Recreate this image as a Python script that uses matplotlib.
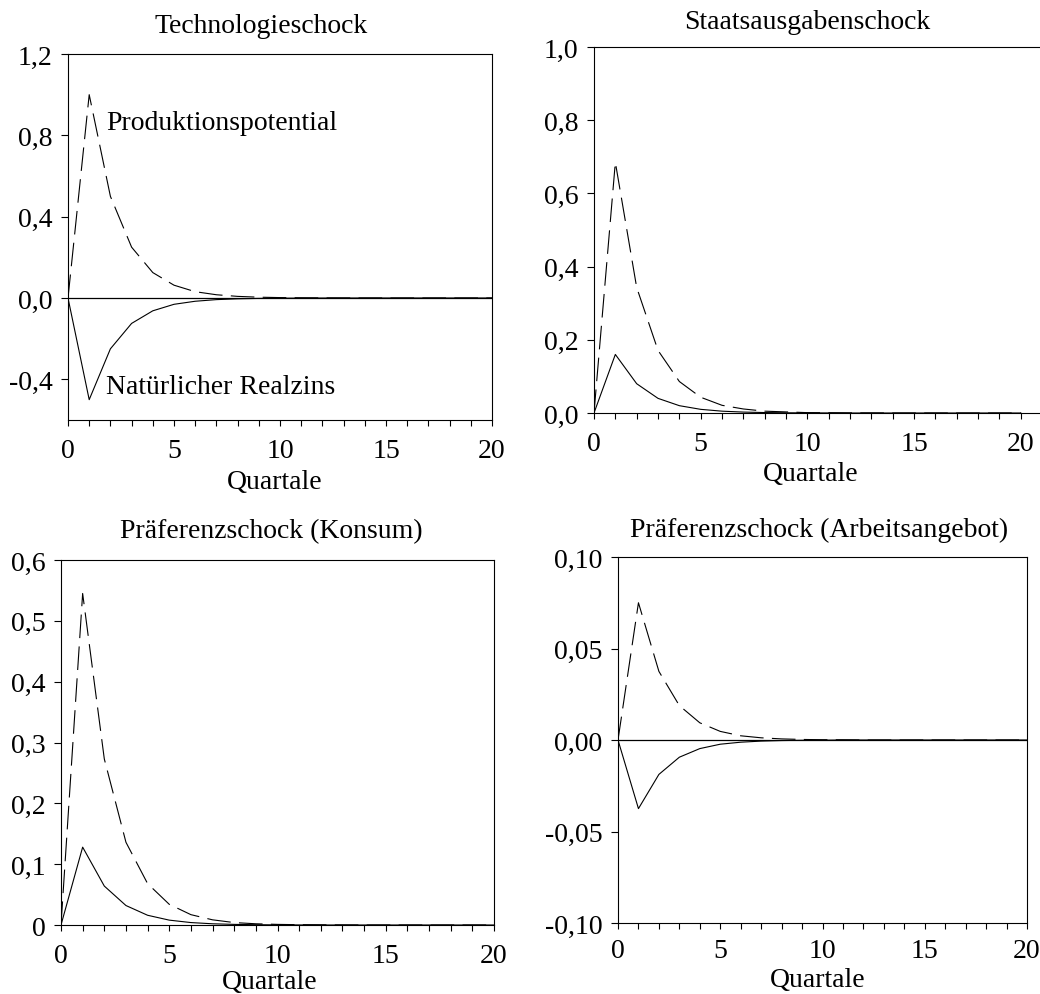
import numpy as np
import matplotlib.pyplot as plt

plt.rcParams['font.family'] = ['Liberation Serif', 'DejaVu Serif']
plt.rcParams['lines.scale_dashes'] = False

W, H = 1040, 995
quartale = np.arange(21)

# Technologieschock
tech_potential = [0, 1.0, 0.5, 0.25, 0.125, 0.063, 0.031, 0.016, 0.008, 0.004, 0.002,
                  0.001, 0.0005, 0.0002, 0.0001, 0, 0, 0, 0, 0, 0]
tech_realzins = [0, -0.5, -0.25, -0.125, -0.063, -0.031, -0.016, -0.008, -0.004, -0.002,
                 -0.001, -0.0005, -0.0002, -0.0001, 0, 0, 0, 0, 0, 0, 0]

# Staatsausgabenschock
staat_potential = [0, 0.685, 0.343, 0.171, 0.086, 0.043, 0.021, 0.011, 0.005, 0.003,
                   0.001, 0.0007, 0.0003, 0.0002, 0, 0, 0, 0, 0, 0, 0]
staat_realzins = [0, 0.16, 0.08, 0.04, 0.02, 0.01, 0.005, 0.0025, 0.0012, 0.0006,
                  0.0003, 0.0002, 0, 0, 0, 0, 0, 0, 0, 0, 0]

# Präferenzschock (Konsum)
kons_potential = [0, 0.545, 0.273, 0.136, 0.068, 0.034, 0.017, 0.0085, 0.004, 0.002,
                  0.001, 0.0005, 0.0003, 0.0001, 0, 0, 0, 0, 0, 0, 0]
kons_realzins = [0, 0.128, 0.064, 0.032, 0.016, 0.008, 0.004, 0.002, 0.001, 0.0005,
                 0.0002, 0.0001, 0, 0, 0, 0, 0, 0, 0, 0, 0]

# Präferenzschock (Arbeitsangebot)
arb_potential = [0, 0.075, 0.0375, 0.0188, 0.0094, 0.0047, 0.0023, 0.0012, 0.0006, 0.0003,
                 0.00015, 0.0001, 0, 0, 0, 0, 0, 0, 0, 0, 0]
arb_realzins = [0, -0.0375, -0.0188, -0.0094, -0.0047, -0.0023, -0.0012, -0.0006, -0.0003,
                -0.00015, -0.0001, 0, 0, 0, 0, 0, 0, 0, 0, 0, 0]

titles = ['Technologieschock', 'Staatsausgabenschock',
          'Präferenzschock (Konsum)', 'Präferenzschock (Arbeitsangebot)']
yticks = [[-0.4, 0.0, 0.4, 0.8, 1.2],
          [0.0, 0.2, 0.4, 0.6, 0.8, 1.0],
          [0, 0.1, 0.2, 0.3, 0.4, 0.5, 0.6],
          [-0.10, -0.05, 0.0, 0.05, 0.10]]
yticklabels = [['-0,4', '0,0', '0,4', '0,8', '1,2'],
               ['0,0', '0,2', '0,4', '0,6', '0,8', '1,0'],
               ['0', '0,1', '0,2', '0,3', '0,4', '0,5', '0,6'],
               ['-0,10', '-0,05', '0,00', '0,05', '0,10']]
ylims = [(-0.6, 1.2), (0.0, 1.0), (0.0, 0.6), (-0.10, 0.10)]
xlims = [(0, 20), (0, 20.9), (0, 20), (0, 20)]
series = [(tech_potential, tech_realzins), (staat_potential, staat_realzins),
          (kons_potential, kons_realzins), (arb_potential, arb_realzins)]

# Pixel-Boxen: links, rechts, oben, unten
boxes = [(68, 492, 55, 421), (594, 1040, 48, 414), (61, 494, 561, 926), (618, 1027, 558, 924)]
title_pos = [(261, 33), (807, 29), (271, 538), (819, 537)]   # Grundlinie
xlabel_pos = [(275, 489), (811, 481), (270, 989), (818, 987)]

fig = plt.figure(figsize=(W / 100, H / 100), dpi=100)
fs = 20

for i in range(4):
    l, r, t, b = boxes[i]
    ax = fig.add_axes([l / W, 1 - b / H, (r - l) / W, (b - t) / H])
    pot, rz = series[i]
    ax.plot(quartale, pot, color='black', lw=0.8, dashes=(17, 6))
    ax.plot(quartale, rz, color='black', lw=0.8)
    if ylims[i][0] < 0:
        ax.axhline(0, color='black', lw=0.9, xmax=(20 - xlims[i][0]) / (xlims[i][1] - xlims[i][0]))
    ax.set_xlim(*xlims[i])
    ax.set_ylim(*ylims[i])
    ax.set_xticks([0, 5, 10, 15, 20])
    ax.set_xticks(np.arange(0, 21), minor=True)
    ax.set_xticklabels(['0', '5', '10', '15', '20'])
    ax.set_yticks(yticks[i])
    ax.set_yticklabels(yticklabels[i])
    ax.tick_params(axis='both', which='both', direction='out', labelsize=fs, width=0.8)
    ax.tick_params(axis='x', which='both', length=4, pad=9 if i < 3 else 7)
    ax.tick_params(axis='y', length=5, pad=6)
    for s in ax.spines.values():
        s.set_linewidth(0.8)
    if i == 1:
        ax.spines['right'].set_visible(False)
    fig.text(title_pos[i][0] / W, 1 - title_pos[i][1] / H, titles[i], fontsize=fs,
             ha='center', va='baseline')
    fig.text(xlabel_pos[i][0] / W, 1 - xlabel_pos[i][1] / H, 'Quartale', fontsize=fs,
             ha='center', va='baseline')
    if i == 0:
        ax.text(1.8, 0.865, 'Produktionspotential', fontsize=fs, ha='left', va='center')
        ax.text(1.8, -0.437, 'Natürlicher Realzins', fontsize=fs, ha='left', va='center')

fig.savefig('out.png', dpi=100)
